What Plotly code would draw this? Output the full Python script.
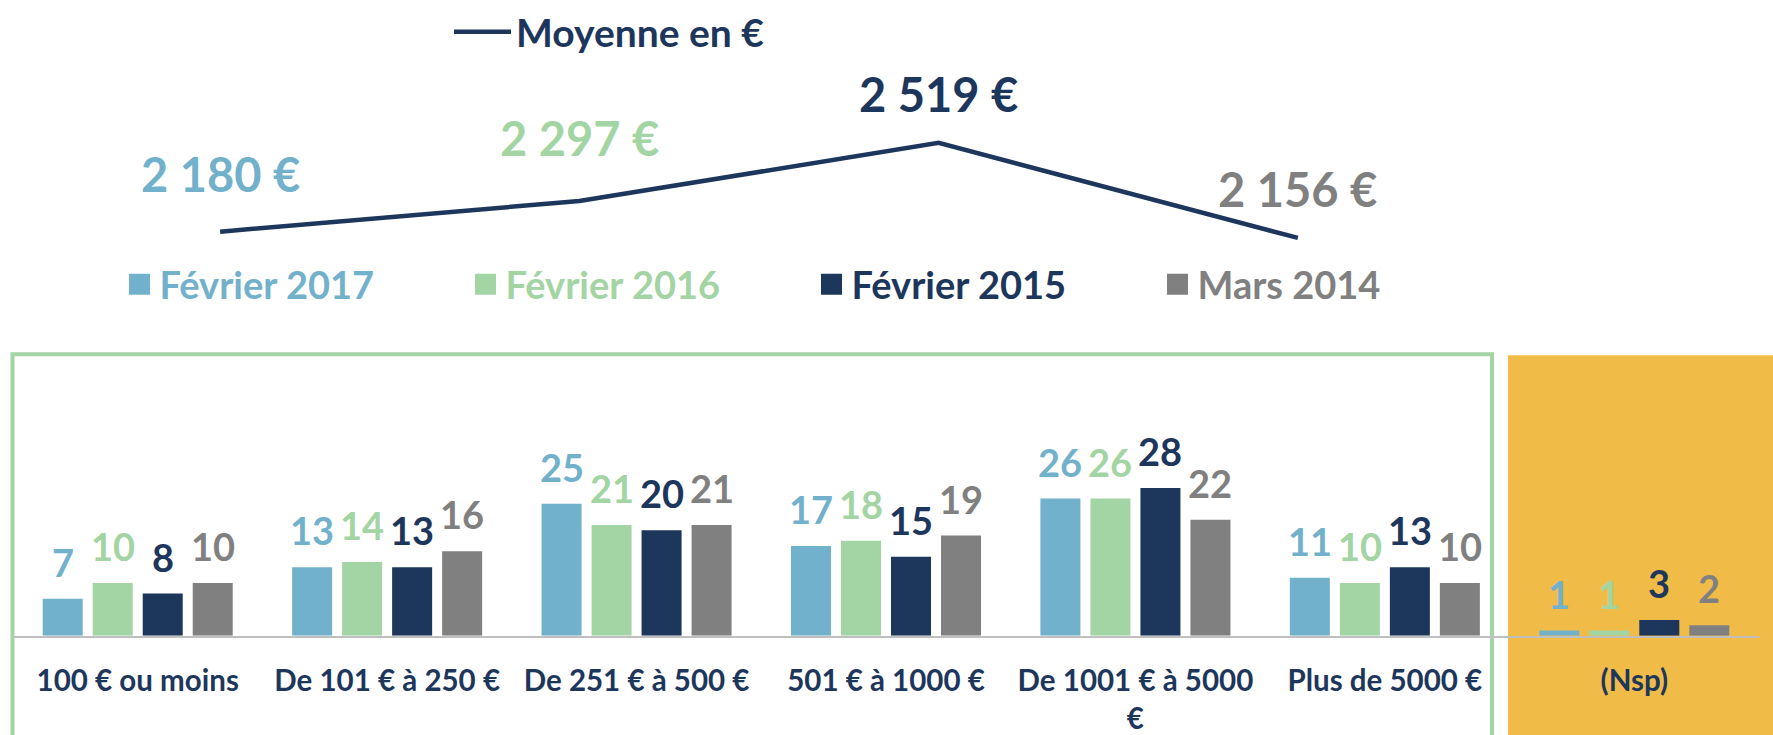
import plotly.graph_objects as go

# ---------------- data ----------------
periods = ["Février 2017", "Février 2016", "Février 2015", "Mars 2014"]
colors = ["#72B1CB", "#A3D4A3", "#1D365C", "#808080"]
moyenne = [2180, 2297, 2519, 2156]
moyenne_labels = ["2 180 €", "2 297 €", "2 519 €", "2 156 €"]

categories = ["100 € ou moins", "De 101 € à 250 €", "De 251 € à 500 €",
              "501 € à 1000 €", "De 1001 € à 5000<br>€", "Plus de 5000 €", "(Nsp)"]
feb2017 = [7, 13, 25, 17, 26, 11, 1]
feb2016 = [10, 14, 21, 18, 26, 10, 1]
feb2015 = [8, 13, 20, 15, 28, 13, 3]
mar2014 = [10, 16, 21, 19, 22, 10, 2]
series = [feb2017, feb2016, feb2015, mar2014]

# ---------------- layout constants ----------------
W, H = 1773, 735
FONT = "Lato, 'Liberation Sans', Arial, sans-serif"
NAVY = "#1D365C"

x_dom = [13 / W, 1759 / W]
y_dom = [1 - 640 / H, 1 - 424.8 / H]
x2_dom = [40.5 / W, 1477.5 / W]
y2_dom = [1 - 276.06 / H, 1 - 115.86 / H]
BARGAP, GROUPGAP = 0.198, 0.2

fig = go.Figure()

for name, vals, col in zip(periods, series, colors):
    fig.add_trace(go.Bar(
        x=categories, y=vals, name=name, marker=dict(color=col, line=dict(width=0)),
        xaxis="x", yaxis="y", showlegend=False, hoverinfo="skip"))

# legend swatches (square markers) for the four periods
for name, col in zip(periods, colors):
    fig.add_trace(go.Scatter(
        x=[None], y=[None], mode="markers", xaxis="x", yaxis="y",
        name=f"<span style='color:{col}'>{name}</span>",
        marker=dict(symbol="square", size=16, color=col, line=dict(color=col, width=5)),
        legend="legend"))

fig.add_trace(go.Scatter(
    x=periods, y=moyenne, mode="lines", name=f"<span style='color:{NAVY}'>Moyenne en €</span>",
    line=dict(color=NAVY, width=4.5), xaxis="x2", yaxis="y2", legend="legend2",
    hoverinfo="skip"))

annotations = []
# bar value labels
cat_px = (x_dom[1] - x_dom[0]) * W / len(categories)
slot_px = cat_px * (1 - BARGAP) / len(series)
for k, (vals, col) in enumerate(zip(series, colors)):
    for c, v in zip(categories, vals):
        annotations.append(dict(
            x=c, y=v, xref="x", yref="y", xshift=(k - 1.5) * slot_px, yshift=37,
            text=f"<b>{v}</b>", showarrow=False, yanchor="middle",
            font=dict(family=FONT, size=38, color=col)))

# mean labels
lift = [58, 63, 49, 49]
for p, v, lab, col, dy in zip(periods, moyenne, moyenne_labels, colors, lift):
    annotations.append(dict(
        x=p, y=v, xref="x2", yref="y2", yshift=dy, text=f"<b>{lab}</b>",
        showarrow=False, yanchor="middle",
        font=dict(family=FONT, size=47, color=col)))

shapes = [
    dict(type="rect", xref="paper", yref="paper", x0=1508 / W, x1=1.01, y0=-0.05, y1=1 - 354 / H,
         fillcolor="#F0BC47", line=dict(width=0), layer="below"),
    dict(type="rect", xref="paper", yref="paper", x0=12.5 / W, x1=1492 / W, y0=-0.05, y1=1 - 353 / H,
         fillcolor="rgba(0,0,0,0)", line=dict(color="#A3D4A3", width=4), layer="below"),
]

fig.update_layout(
    width=W, height=H, margin=dict(l=0, r=0, t=0, b=0),
    paper_bgcolor="white", plot_bgcolor="rgba(0,0,0,0)",
    barmode="group", bargap=BARGAP, bargroupgap=GROUPGAP,
    font=dict(family=FONT, color=NAVY),
    xaxis=dict(domain=x_dom, anchor="y", range=[-0.5, 6.5], showgrid=False, zeroline=False,
               showline=True, linecolor="#BFBFBF", linewidth=1.5, ticks="",
               tickfont=dict(family=FONT, size=29.5, color=NAVY, weight="bold"),
               ticklabelstandoff=18),
    yaxis=dict(domain=y_dom, anchor="x", range=[0, 40], visible=False, showgrid=False),
    xaxis2=dict(domain=x2_dom, anchor="y2", range=[-0.5, 3.5], visible=False),
    yaxis2=dict(domain=y2_dom, anchor="x2", range=[2000, 2600], visible=False),
    legend=dict(orientation="h", x=119.5 / W, y=1 - 282 / H, xanchor="left", yanchor="middle",
                font=dict(family=FONT, size=38, weight="bold"), itemsizing="trace",
                entrywidth=301, entrywidthmode="pixels", bgcolor="rgba(0,0,0,0)",
                traceorder="normal"),
    legend2=dict(orientation="h", x=449 / W, y=1 - 24 / H, xanchor="left", yanchor="middle",
                 font=dict(family=FONT, size=39, weight="bold"), bgcolor="rgba(0,0,0,0)",
                 itemwidth=57),
    annotations=annotations, shapes=shapes,
)

fig.write_html("out.html", config={"displayModeBar": False},
               post_script="document.body.style.margin='0px';")
